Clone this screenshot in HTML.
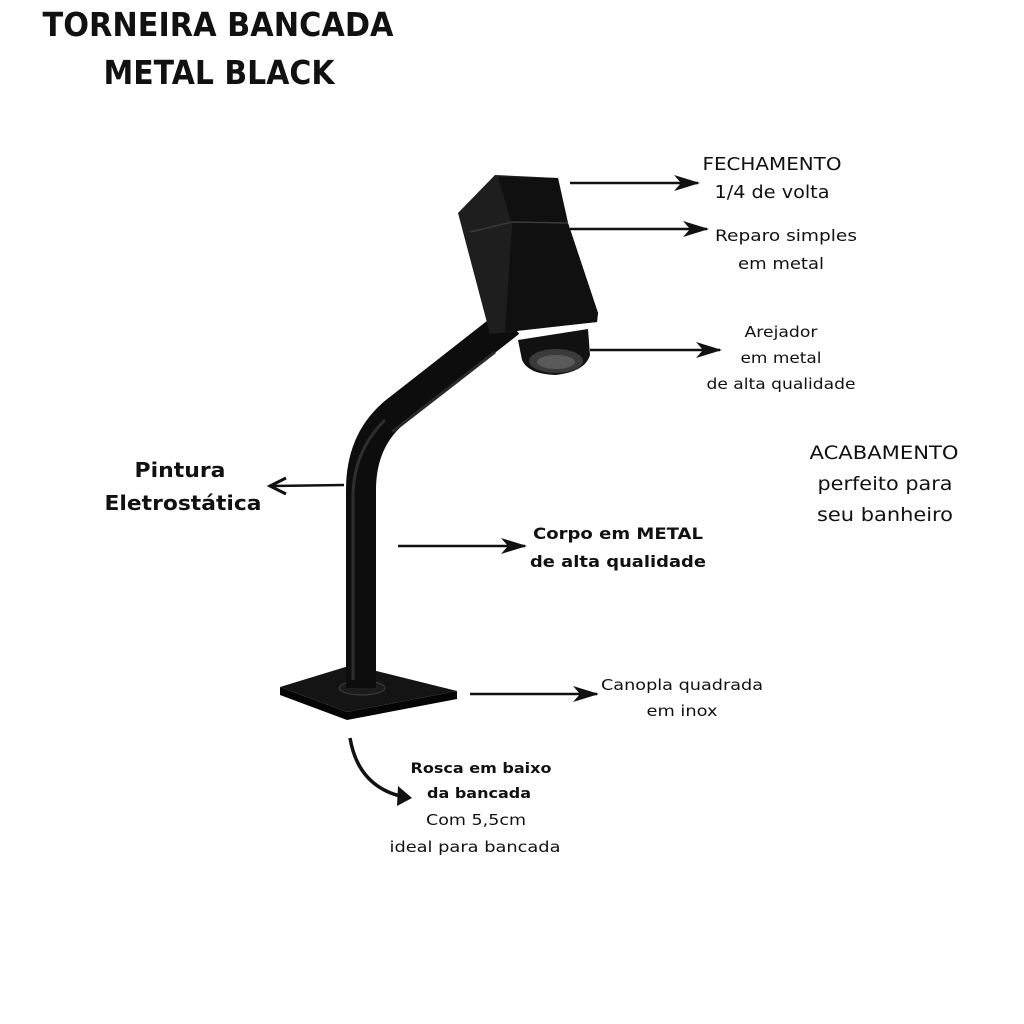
<!DOCTYPE html>
<html><head><meta charset="utf-8"><style>html,body{margin:0;padding:0;background:#fff}svg{display:block}</style></head>
<body>
<svg width="1024" height="1024" viewBox="0 0 1024 1024" xmlns="http://www.w3.org/2000/svg" font-family="'DejaVu Sans','Liberation Sans',sans-serif" fill="#111">
<defs>
<marker id="ah2" markerWidth="26" markerHeight="16" refX="24" refY="8" orient="auto" markerUnits="userSpaceOnUse" viewBox="0 0 26 16"><path d="M0,0 L26,8 L0,16 L7,8 Z" fill="#111"/></marker>
</defs>
<!-- title -->
<text x="218" y="36" text-anchor="middle" font-weight="bold" font-size="33" textLength="351" lengthAdjust="spacingAndGlyphs">TORNEIRA BANCADA</text>
<text x="219" y="84" text-anchor="middle" font-weight="bold" font-size="33" textLength="231" lengthAdjust="spacingAndGlyphs">METAL BLACK</text>

<!-- faucet -->
<g>
<!-- base plate -->
<path d="M280,687 L280,695 L347,720 L457,699 L457,691 L347,712 Z" fill="#050505"/>
<path d="M280,687 L352,665 L457,691 L347,712 Z" fill="#141414"/>
<ellipse cx="362" cy="688" rx="23" ry="7" fill="#1c1c1c" stroke="#3a3a3a" stroke-width="1.2"/>
<!-- pipe -->
<path d="M361,688 L361,490 Q361,440 395,412 L510,322" stroke="#0d0d0d" stroke-width="30" fill="none" stroke-linejoin="round"/>
<path d="M353,680 L353,495 Q354,450 385,420" stroke="#2e2e2e" stroke-width="3" fill="none"/>
<path d="M392,432 L495,352" stroke="#2a2a2a" stroke-width="3" fill="none"/>
<!-- head -->
<path d="M458,213 L495,175 L558,178 L568,223 L598,313 L597,322 L490,334 Z" fill="#1e1e1e"/>
<path d="M498,177 L558,178 L568,223 L598,313 L597,322 L505,332 L512,225 Z" fill="#101010"/>
<path d="M470,232 L512,222 L568,223" stroke="#3a3a3a" stroke-width="1.5" fill="none"/>
<!-- aerator -->
<path d="M518,340 L588,329 L590,355 Q585,372 555,375 Q528,374 522,360 Z" fill="#111"/>
<ellipse cx="556" cy="361" rx="27" ry="12" fill="#3a3a3a"/>
<ellipse cx="556" cy="362" rx="19" ry="7" fill="#5a5a5a"/>
</g>

<!-- arrows -->
<g stroke="#111" stroke-width="2.5" fill="none">
<line x1="570" y1="183" x2="698" y2="183" marker-end="url(#ah2)"/>
<line x1="570" y1="229" x2="707" y2="229" marker-end="url(#ah2)"/>
<line x1="590" y1="350" x2="720" y2="350" marker-end="url(#ah2)"/>
<line x1="398" y1="546" x2="525" y2="546" marker-end="url(#ah2)"/>
<line x1="470" y1="694" x2="597" y2="694" marker-end="url(#ah2)"/>
<line x1="344" y1="485" x2="272" y2="486"/>
<polyline points="286,478 270,486 286,494" stroke-width="3"/>
<path d="M350,738 Q358,785 400,796" stroke-width="3.5"/>
</g>
<path d="M398,786 L412,798 L397,806 Z" fill="#111"/>

<!-- labels -->
<text x="772" y="170" text-anchor="middle" font-size="18" textLength="139" lengthAdjust="spacingAndGlyphs">FECHAMENTO</text>
<text x="772" y="198" text-anchor="middle" font-size="18" textLength="115" lengthAdjust="spacingAndGlyphs">1/4 de volta</text>
<text x="786" y="241" text-anchor="middle" font-size="16" textLength="142" lengthAdjust="spacingAndGlyphs">Reparo simples</text>
<text x="781" y="269" text-anchor="middle" font-size="16" textLength="86" lengthAdjust="spacingAndGlyphs">em metal</text>
<text x="781" y="337" text-anchor="middle" font-size="15" textLength="73" lengthAdjust="spacingAndGlyphs">Arejador</text>
<text x="781" y="363" text-anchor="middle" font-size="15" textLength="81" lengthAdjust="spacingAndGlyphs">em metal</text>
<text x="781" y="389" text-anchor="middle" font-size="15" textLength="149" lengthAdjust="spacingAndGlyphs">de alta qualidade</text>
<text x="884" y="459" text-anchor="middle" font-size="19" textLength="149" lengthAdjust="spacingAndGlyphs">ACABAMENTO</text>
<text x="885" y="490" text-anchor="middle" font-size="19" textLength="135" lengthAdjust="spacingAndGlyphs">perfeito para</text>
<text x="885" y="521" text-anchor="middle" font-size="19" textLength="136" lengthAdjust="spacingAndGlyphs">seu banheiro</text>
<text x="180" y="477" text-anchor="middle" font-size="20" font-weight="bold" textLength="91" lengthAdjust="spacingAndGlyphs">Pintura</text>
<text x="183" y="510" text-anchor="middle" font-size="20" font-weight="bold" textLength="157" lengthAdjust="spacingAndGlyphs">Eletrostática</text>
<text x="618" y="539" text-anchor="middle" font-size="16" font-weight="bold" textLength="170" lengthAdjust="spacingAndGlyphs">Corpo em METAL</text>
<text x="618" y="567" text-anchor="middle" font-size="16" font-weight="bold" textLength="176" lengthAdjust="spacingAndGlyphs">de alta qualidade</text>
<text x="682" y="690" text-anchor="middle" font-size="15" textLength="162" lengthAdjust="spacingAndGlyphs">Canopla quadrada</text>
<text x="682" y="716" text-anchor="middle" font-size="15" textLength="71" lengthAdjust="spacingAndGlyphs">em inox</text>
<text x="481" y="773" text-anchor="middle" font-size="14" font-weight="bold" textLength="141" lengthAdjust="spacingAndGlyphs">Rosca em baixo</text>
<text x="479" y="798" text-anchor="middle" font-size="14" font-weight="bold" textLength="104" lengthAdjust="spacingAndGlyphs">da bancada</text>
<text x="476" y="825" text-anchor="middle" font-size="15" textLength="100" lengthAdjust="spacingAndGlyphs">Com 5,5cm</text>
<text x="475" y="852" text-anchor="middle" font-size="15" textLength="171" lengthAdjust="spacingAndGlyphs">ideal para bancada</text>
</svg>
</body></html>
